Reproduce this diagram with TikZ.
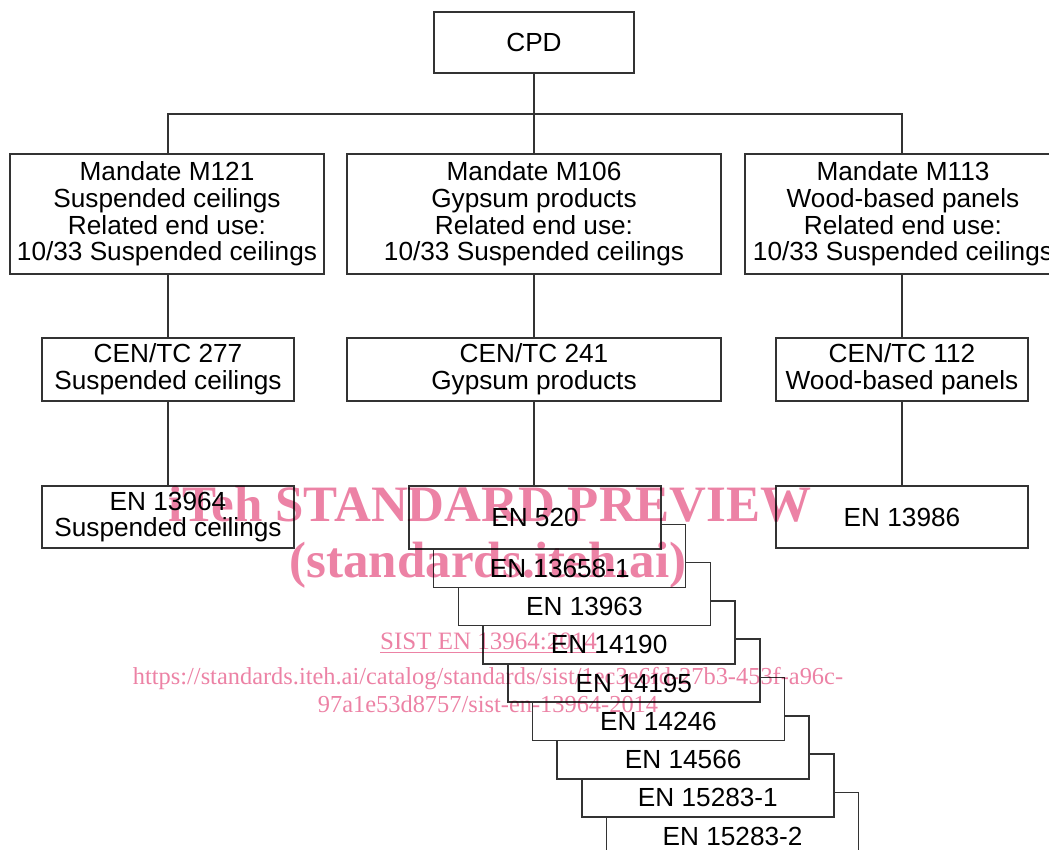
\documentclass[tikz,border=0pt]{standalone}
\usepackage{fontspec}
\setmainfont{Liberation Sans}
\newfontfamily\wmfont{Liberation Serif}
\usetikzlibrary{positioning}
\definecolor{wmpink}{RGB}{236,130,165}

\begin{document}
\begin{tikzpicture}[x=0.5pt, y=-0.5pt, line width=0.75pt,
    box/.style = {draw=black!80, fill=white, inner sep=0pt, align=center, font=\fontsize{13.1}{13.3}\selectfont},
    wm/.style = {text=wmpink, anchor=base, inner sep=0pt}]
    \useasboundingbox (0,0) rectangle (1049,850);
    \clip (0,0) rectangle (1049,850);
    \node[box, minimum width=100pt, minimum height=30.5pt] (cpd) at (534,42.5) {CPD};
    \node[box, minimum width=157pt, minimum height=60pt] (m121) at (167,214) {Mandate M121\\Suspended ceilings\\Related end use:\\10/33 Suspended ceilings};
    \node[box, minimum width=187pt, minimum height=60pt] (m106) at (534,214) {Mandate M106\\Gypsum products\\Related end use:\\10/33 Suspended ceilings};
    \node[box, minimum width=158pt, minimum height=60pt] (m113) at (903,214) {Mandate M113\\Wood-based panels\\Related end use:\\10/33 Suspended ceilings};
    \node[box, minimum width=126pt, minimum height=31.5pt] (tc277) at (168,369.5) {CEN/TC 277\\Suspended ceilings};
    \node[box, minimum width=187pt, minimum height=31.5pt] (tc241) at (534,369.5) {CEN/TC 241\\Gypsum products};
    \node[box, minimum width=126pt, minimum height=31.5pt] (tc112) at (902,369.5) {CEN/TC 112\\Wood-based panels};
    \coordinate (bus) at (534,114);
    \draw[black!80] (cpd) -- (m106); \draw[black!80] (m121.north -| tc277.north) |- (bus) -| (m113.north -| tc112.north);
    \draw[black!80] (m121.south -| tc277.north) -- (tc277); \draw[black!80] (m106) -- (tc241); \draw[black!80] (m113.south -| tc112.north) -- (tc112);
    \node[box, minimum width=126pt, minimum height=31pt] (en13964) at (168,517) {EN 13964\\Suspended ceilings};
    \node[box, minimum width=126pt, minimum height=31pt] (en13986) at (902,517) {EN 13986};
    % stacked standards, drawn back to front
    \foreach \lab/\i in {EN 15283-2/8, EN 15283-1/7, EN 14566/6, EN 14246/5, EN 14195/4, EN 14190/3, EN 13963/2, EN 13658-1/1, EN 520/0} {
      \node[box, minimum width=126pt, minimum height=31.5pt] (en\i) at ({535+24.7*\i},{517.5+38.3*\i}) {};
      \node[font=\fontsize{13.1}{13.3}\selectfont, inner sep=0pt] (t\i) at ({535+24.7*\i},{517.5+38.3*\i+12.3*min(\i,1)}) {\lab};
    }
    \draw[black!80] (tc241) -- (tc241.south |- en0.north);
    \draw[black!80] (tc277) -- (en13964); \draw[black!80] (tc112) -- (en13986);
    % watermark
    \begin{scope}[blend mode=multiply]
      \node[wm, font=\wmfont\bfseries\fontsize{25.5}{28}\selectfont] (wm1) at (490,521) {iTeh STANDARD PREVIEW};
      \node[wm, font=\wmfont\bfseries\fontsize{25.5}{28}\selectfont] (wm2) at (488,577) {(standards.iteh.ai)};
      \node[wm, font=\wmfont\fontsize{12.5}{14}\selectfont] (wm3) at (488.5,649) {\underline{SIST EN 13964:2014}};
      \node[wm, font=\wmfont\fontsize{12.2}{14}\selectfont] (wm4) at (488,684) {https://standards.iteh.ai/catalog/standards/sist/1ec3e6fd-27b3-453f-a96c-};
      \node[wm, font=\wmfont\fontsize{12.2}{14}\selectfont] (wm5) at (488,712) {97a1e53d8757/sist-en-13964-2014};
    \end{scope}
\end{tikzpicture}
\end{document}
